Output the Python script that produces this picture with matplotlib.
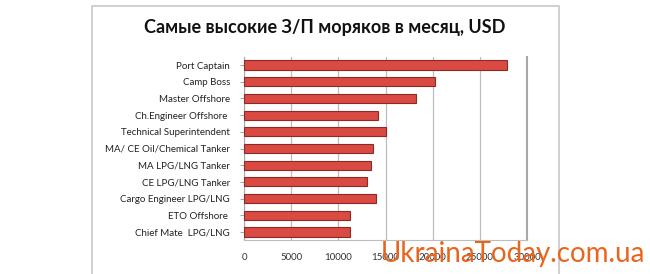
import matplotlib.pyplot as plt
from matplotlib.patches import Rectangle

# Должности и зарплаты (снизу вверх, как на графике)
positions = ["Chief Mate  LPG/LNG", "ETO Offshore ", "Cargo Engineer LPG/LNG",
             "CE LPG/LNG Tanker", "MA LPG/LNG Tanker", "MA/ CE Oil/Chemical Tanker",
             "Technical Superintendent", "Ch.Engineer Offshore ", "Master Offshore",
             "Camp Boss", "Port Captain"]
salaries = [11200, 11200, 14000, 13000, 13500, 13700, 15000, 14200, 18200, 20200, 27900]
x_ticks = [0, 5000, 10000, 15000, 20000, 25000, 30000]

plt.rcParams['font.family'] = ['Lato', 'DejaVu Sans']

fig = plt.figure(figsize=(6.5, 2.74), dpi=100)

# рамка диаграммы
fig.patches.append(Rectangle((92 / 650, -0.05), (559 - 92) / 650, 1 - 6 / 274 + 0.05,
                             transform=fig.transFigure, fill=False,
                             edgecolor="#c8c8c8", linewidth=1.2))

ax = fig.add_axes([244 / 650, 1 - 240 / 274, (527 - 244) / 650, (240 - 57) / 274])
ax.barh(range(len(positions)), salaries, height=0.55, color="#d94a42",
        edgecolor="#8e2a25", linewidth=0.8, zorder=3)
ax.set_xlim(0, 30000)
ax.set_ylim(-0.48, 10.48)
ax.set_xticks(x_ticks)
ax.set_xticklabels([str(t) for t in x_ticks], fontsize=7, color="#333333")
ax.set_yticks(range(len(positions)))
ax.set_yticklabels(positions, fontsize=7, color="#222222")
ax.grid(axis="x", color="#bdbdbd", linewidth=0.9, zorder=0)
ax.spines["top"].set_visible(False)
ax.spines["left"].set_color("#a8a8a8")
ax.spines["bottom"].set_color("#bdbdbd")
ax.spines["right"].set_color("#a8a8a8")
ax.spines["right"].set_linewidth(1.5)
ax.tick_params(axis="y", length=3, color="#a8a8a8", pad=7)
ax.tick_params(axis="x", length=0, pad=9)

fig.text(0.5, 1 - 27 / 274, "Самые высокие З/П моряков в месяц, USD",
         ha="center", va="center", fontsize=13, fontweight="bold", color="#111111")

# водяной знак
fig.text(645 / 650, 1 - 262 / 274, "UkrainaToday.com.ua", ha="right", va="baseline",
         fontsize=20, color="#e8651e", zorder=10)

plt.savefig("out.png", dpi=100)
